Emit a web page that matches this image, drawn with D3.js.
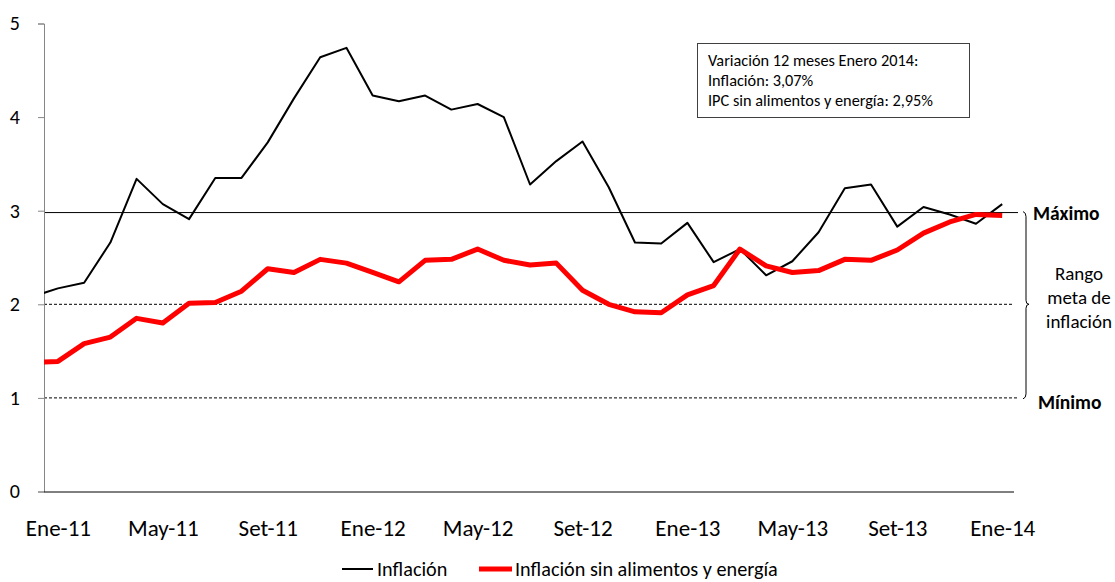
<!DOCTYPE html>
<html>
<head>
<meta charset="utf-8">
<script src="https://cdn.jsdelivr.net/npm/d3@7"></script>
<style>
  body { margin: 0; background: #fff; }
  svg { display: block; font-family: Carlito, Calibri, Lato, sans-serif; }
</style>
</head>
<body>
<div id="mainDiv"></div>
<script>
'use strict';

// meses (Dic-10 solo para el tramo que entra recortado en el eje)
var meses = ['Dic-10',
  'Ene-11','Feb-11','Mar-11','Abr-11','May-11','Jun-11','Jul-11','Ago-11','Set-11','Oct-11','Nov-11','Dic-11',
  'Ene-12','Feb-12','Mar-12','Abr-12','May-12','Jun-12','Jul-12','Ago-12','Set-12','Oct-12','Nov-12','Dic-12',
  'Ene-13','Feb-13','Mar-13','Abr-13','May-13','Jun-13','Jul-13','Ago-13','Set-13','Oct-13','Nov-13','Dic-13',
  'Ene-14'];

var inflacion = [2.08,
  2.17, 2.23, 2.66, 3.34, 3.07, 2.91, 3.35, 3.35, 3.73, 4.20, 4.64, 4.74,
  4.23, 4.17, 4.23, 4.08, 4.14, 4.00, 3.28, 3.53, 3.74, 3.25, 2.66, 2.65,
  2.87, 2.45, 2.59, 2.31, 2.46, 2.77, 3.24, 3.28, 2.83, 3.04, 2.96, 2.86,
  3.07];

var sinAlimentos = [1.38,
  1.39, 1.58, 1.65, 1.85, 1.80, 2.01, 2.02, 2.14, 2.38, 2.34, 2.48, 2.44,
  2.34, 2.24, 2.47, 2.48, 2.59, 2.47, 2.42, 2.44, 2.15, 2.00, 1.92, 1.91,
  2.10, 2.20, 2.59, 2.41, 2.34, 2.36, 2.48, 2.47, 2.58, 2.76, 2.88, 2.96,
  2.95];

var etiquetasX = ['Ene-11','May-11','Set-11','Ene-12','May-12','Set-12','Ene-13','May-13','Set-13','Ene-14'];
var ticksY = [0, 1, 2, 3, 4, 5];

var metaMax = 2.98, metaCentro = 2, metaMin = 1;

var recuadro = ['Variación 12 meses Enero 2014:', 'Inflación: 3,07%', 'IPC sin alimentos y energía: 2,95%'];
var rango = ['Rango', 'meta de', 'inflación'];
var leyenda = ['Inflación', 'Inflación sin alimentos y energía'];

var W = 1115, H = 582;
var plot = { left: 44, right: 1014, top: 23.5, bottom: 491.5 };

var svg = d3.select('#mainDiv').append('svg').attr('width', W).attr('height', H);

var x = d3.scaleLinear().domain([0.47, 37.45]).range([plot.left, plot.right]);
var y = d3.scaleLinear().domain([0, 5]).range([plot.bottom, plot.top]);

svg.append('clipPath').attr('id', 'clip')
  .append('rect').attr('x', plot.left).attr('y', 0)
  .attr('width', plot.right - plot.left).attr('height', H);

// lineas del rango meta
svg.append('line')
  .attr('x1', plot.left).attr('x2', 1018)
  .attr('y1', y(metaMax)).attr('y2', y(metaMax))
  .attr('stroke', '#000').attr('stroke-width', 1);
svg.append('line')
  .attr('x1', plot.left).attr('x2', 1012)
  .attr('y1', y(metaCentro)).attr('y2', y(metaCentro))
  .attr('stroke', '#000').attr('stroke-width', 1).attr('stroke-dasharray', '3,2');
svg.append('line')
  .attr('x1', plot.left).attr('x2', 1017)
  .attr('y1', y(metaMin)).attr('y2', y(metaMin))
  .attr('stroke', '#000').attr('stroke-width', 1).attr('stroke-dasharray', '3,2');

// ejes
var yAxis = svg.append('g')
  .attr('transform', 'translate(' + plot.left + ',0)')
  .call(d3.axisLeft(y).tickValues(ticksY).tickFormat(d3.format('d')).tickSize(6).tickPadding(18));
yAxis.attr('font-family', null).attr('font-size', null);
yAxis.select('.domain').attr('stroke', '#868686');
yAxis.selectAll('.tick line').attr('stroke', '#868686');
yAxis.selectAll('text').attr('font-size', 20).attr('fill', '#000');

var xAxis = svg.append('g')
  .attr('transform', 'translate(0,' + plot.bottom + ')')
  .call(d3.axisBottom(x)
    .tickValues(etiquetasX.map(function(e) { return meses.indexOf(e); }))
    .tickFormat(function(i) { return meses[i]; })
    .tickSize(0).tickSizeOuter(0));
xAxis.attr('font-family', null).attr('font-size', null);
xAxis.select('.domain').attr('stroke', '#000').attr('d', 'M' + plot.left + ',0.5H' + plot.right);
xAxis.selectAll('text').attr('font-size', 23).attr('fill', '#000')
  .attr('y', 44).attr('dy', 0);

// series
var linea = d3.line()
  .x(function(d, i) { return x(i); })
  .y(function(d) { return y(d); });

var series = svg.append('g').attr('clip-path', 'url(#clip)');
series.append('path').datum(inflacion)
  .attr('d', linea).attr('fill', 'none')
  .attr('stroke', '#000').attr('stroke-width', 2).attr('stroke-linejoin', 'round');
series.append('path').datum(sinAlimentos)
  .attr('d', linea).attr('fill', 'none')
  .attr('stroke', '#ff0000').attr('stroke-width', 5).attr('stroke-linejoin', 'round');

// recuadro de texto
svg.append('rect')
  .attr('x', 697.5).attr('y', 43.5).attr('width', 272).attr('height', 74)
  .attr('fill', '#fff').attr('stroke', '#404040').attr('stroke-width', 1);
svg.append('g').selectAll('text').data(recuadro).enter().append('text')
  .attr('x', 708).attr('y', function(d, i) { return 66 + i * 20; })
  .attr('font-size', 16.3).attr('fill', '#000')
  .text(function(d) { return d; });

// llave del rango
var yTop = y(metaMax), yMid = y(metaCentro), yBot = y(metaMin);
svg.append('path')
  .attr('d', 'M1023,' + (yTop - 1) + ' Q1026,' + yTop + ' 1026,' + (yTop + 4) +
    ' V' + (yMid - 4) + ' Q1026,' + yMid + ' 1029,' + yMid +
    ' Q1026,' + yMid + ' 1026,' + (yMid + 4) +
    ' V' + (yBot - 4) + ' Q1026,' + yBot + ' 1023,' + (yBot + 1))
  .attr('fill', 'none').attr('stroke', '#000').attr('stroke-width', 1);

svg.append('text').attr('x', 1033).attr('y', yTop + 7)
  .attr('font-size', 19.5).attr('font-weight', 'bold').text('Máximo');
svg.append('text').attr('x', 1038).attr('y', yBot + 11)
  .attr('font-size', 19.5).attr('font-weight', 'bold').text('Mínimo');
svg.append('g').selectAll('text').data(rango).enter().append('text')
  .attr('x', 1079).attr('y', function(d, i) { return 280 + i * 24; })
  .attr('text-anchor', 'middle').attr('font-size', 19)
  .text(function(d) { return d; });

// leyenda
var ley = svg.append('g');
ley.append('line').attr('x1', 342).attr('x2', 373).attr('y1', 569).attr('y2', 569)
  .attr('stroke', '#000').attr('stroke-width', 2);
ley.append('text').attr('x', 377).attr('y', 576).attr('font-size', 20.2).text(leyenda[0]);
ley.append('line').attr('x1', 479).attr('x2', 512).attr('y1', 569).attr('y2', 569)
  .attr('stroke', '#ff0000').attr('stroke-width', 5);
ley.append('text').attr('x', 515).attr('y', 576).attr('font-size', 20.2).text(leyenda[1]);
</script>
</body>
</html>
